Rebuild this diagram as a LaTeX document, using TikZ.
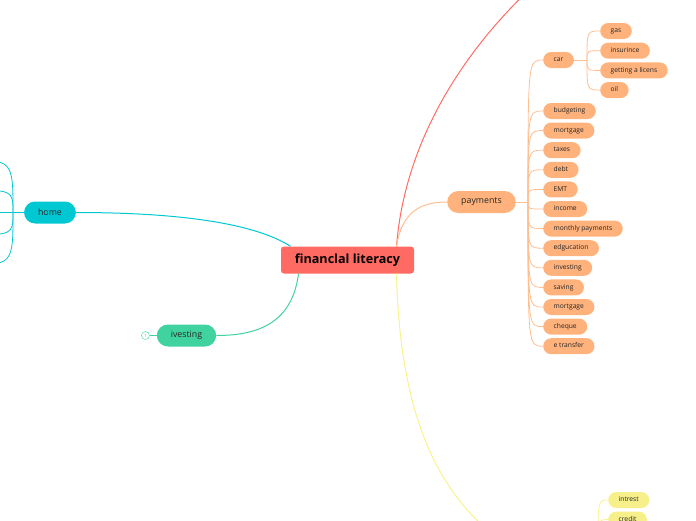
\documentclass[tikz,border=0pt]{standalone}
\usepackage{fontspec}
\setmainfont{Open Sans}
\usepackage{xcolor}
\usetikzlibrary{positioning}

\definecolor{rootred}{HTML}{FF6A63}
\definecolor{payorange}{HTML}{FFB27C}
\definecolor{payline}{HTML}{FFBE90}
\definecolor{homecyan}{HTML}{00C8D2}
\definecolor{ivgreen}{HTML}{40D3A0}
\definecolor{moneyyellow}{HTML}{F7F08A}
\definecolor{moneyline}{HTML}{F8F38C}
\definecolor{txtgray}{HTML}{262626}

\begin{document}
\begin{tikzpicture}[x=1pt, y=-1pt,
  root/.style={fill=rootred, rounded corners=3pt, minimum width=133pt, minimum height=27pt, font=\fontsize{12.6}{14}\selectfont\bfseries, text=black},
  branch/.style={rounded corners=11pt, minimum height=22pt, inner xsep=14pt, font=\fontsize{8.8}{10}\selectfont, text=txtgray},
  leaf/.style={fill=payorange, rounded corners=8pt, minimum height=16pt, inner xsep=10.5pt, text height=5pt, text depth=1.5pt, font=\fontsize{6.7}{7}\selectfont, text=txtgray},
  pline/.style={draw=payline, line width=0.8pt},
  yleaf/.style={leaf, fill=moneyyellow}]
  \useasboundingbox (0,0) rectangle (696,520);
  \clip (0,0) rectangle (696,520);

  % centre topic
  \node[root] (root) at (347.5,260) {financlal literacy};

  % main branches
  \node[branch, fill=payorange] (payments) at (481.5,202) {payments};
  \node[branch, fill=homecyan] (home) at (50,212.5) {home};
  \node[branch, fill=ivgreen] (ivesting) at (186.5,335.5) {ivesting};
  \node[circle, draw=ivgreen, fill=white, inner sep=0pt, minimum size=8pt, font=\fontsize{4.5}{4.5}\selectfont, text=ivgreen, left=7pt of ivesting] (ivfold) {1};
  \coordinate (redend) at (545,-25);
  \coordinate (yellowend) at (500,540);

  % car and its children
  \node[leaf, anchor=west] (car) at (543,60) {car};
  \node[leaf, anchor=west] (gas) at (600,31) {gas};
  \node[leaf, below=3.3pt of gas.south west, anchor=north west] (insur) {insurince};
  \node[leaf, below=3.3pt of insur.south west, anchor=north west] (licens) {getting a licens};
  \node[leaf, below=3.3pt of licens.south west, anchor=north west] (oil) {oil};

  % payments children
  \node[leaf, anchor=west] (budget) at (543,111) {budgeting};
  \node[leaf, below=3.2pt of budget.south west, anchor=north west] (mort1) {mortgage};
  \node[leaf, below=3.2pt of mort1.south west, anchor=north west] (taxes) {taxes};
  \node[leaf, below=3.2pt of taxes.south west, anchor=north west] (debt) {debt};
  \node[leaf, below=3.2pt of debt.south west, anchor=north west] (emt) {EMT};
  \node[leaf, below=3.2pt of emt.south west, anchor=north west] (income) {income};
  \node[leaf, below=3.2pt of income.south west, anchor=north west] (monthly) {monthly payments};
  \node[leaf, below=3.2pt of monthly.south west, anchor=north west] (edu) {edgucation};
  \node[leaf, below=3.2pt of edu.south west, anchor=north west] (invest) {investing};
  \node[leaf, below=3.2pt of invest.south west, anchor=north west] (saving) {saving};
  \node[leaf, below=3.2pt of saving.south west, anchor=north west] (mort2) {mortgage};
  \node[leaf, below=3.2pt of mort2.south west, anchor=north west] (cheque) {cheque};
  \node[leaf, below=3.2pt of cheque.south west, anchor=north west] (etrans) {e transfer};

  % yellow branch children
  \node[yleaf, anchor=west] (intrest) at (608,500) {intrest};
  \node[yleaf, below=3.2pt of intrest.south west, anchor=north west] (credit) {credit};

  % spines
  \coordinate (pspine) at (528,202);
  \coordinate (cspine) at (587,60);
  \coordinate (hspine) at (13,212.5);
  \coordinate (yspine) at (598,548);

  % centre to branches
  \draw[rootred, line width=1pt] ([xshift=49pt]root.north) .. controls (404,150) and (455,55) .. (redend);
  \draw[payline, line width=1pt] ([xshift=49pt]root.north) .. controls (402,212) and (420,202) .. (payments.west);
  \draw[moneyline, line width=1pt] ([xshift=49pt]root.south) .. controls (400,420) and (440,495) .. (yellowend);
  \draw[homecyan, line width=1pt] ([xshift=-57pt]root.north) .. controls (262,228) and (200,212.5) .. (home.east);
  \draw[ivgreen, line width=1pt] ([xshift=-49pt]root.south) .. controls (292,325) and (255,335.5) .. (ivesting.east);
  \draw[ivgreen, line width=0.8pt] (ivfold) -- (ivesting);

  % payments connectors
  \draw[pline] (payments.east) -- (pspine);
  \foreach \n in {car,budget,mort1,taxes,debt,emt,income,monthly,edu,invest,saving,mort2,cheque,etrans}
    \draw[pline] (pspine) .. controls (pspine |- \n.west) .. (\n.west);

  % car connectors
  \draw[pline] (car.east) -- (cspine);
  \foreach \n in {gas,insur,licens,oil}
    \draw[pline] (cspine) .. controls (cspine |- \n.west) .. (\n.west);

  % home connectors (children off the page)
  \draw[homecyan, line width=0.8pt] (home.west) -- (hspine);
  \foreach \y in {160,190,212.5,235,265}
    \draw[homecyan, line width=0.8pt] (hspine) .. controls (13,\y) .. (-35,\y);

  % yellow connectors
  \foreach \n in {intrest,credit}
    \draw[moneyline, line width=0.8pt] (yspine) .. controls (yspine |- \n.west) .. (\n.west);
\end{tikzpicture}
\end{document}
